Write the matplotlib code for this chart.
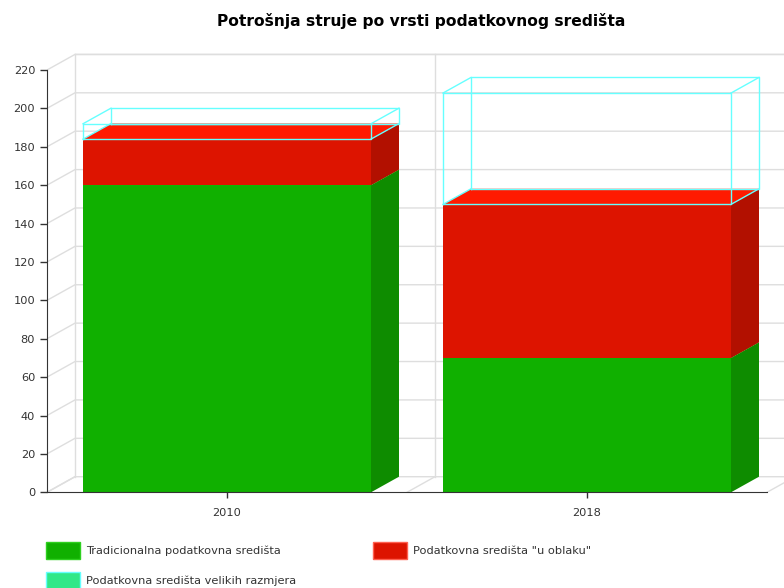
import matplotlib
matplotlib.use('Agg')
import matplotlib.pyplot as plt
from matplotlib.patches import Polygon, Rectangle
import numpy as np

# podaci
godine = ['2010', '2018']
tradicionalna = [160, 70]
oblak = [24, 80]
veliki = [8, 58]
serije = ['Tradicionalna podatkovna središta', 'Podatkovna središta "u oblaku"',
          'Podatkovna središta velikih razmjera']
y_ticks = list(range(0, 221, 20))

# boje: prednja strana, bok, vrh
boje = [('#10b000', '#0e8c00', '#12c800'),
        ('#dd1400', '#b21000', '#ff1a00')]
cijan = '#66ffff'

W, H = 784, 588
fig = plt.figure(figsize=(W / 100, H / 100), dpi=100)
# os u pikselima: x 47..784, y 45..492
ax = fig.add_axes([47 / W, (H - 492.3) / H, 737 / W, 447.3 / H])
ax.set_xlim(-0.5, -0.5 + 737 / 360)
ax.set_ylim(0, 447.3 / 1.9195)

dx = 28 / 360          # dubina u jedinicama kategorije
dy = 15.6 / 1.9195     # dubina u jedinicama vrijednosti
w = 0.8
grid_c = '#dedede'

# mreza na straznjem zidu
for v in y_ticks:
    ax.plot([-0.5, -0.5 + dx, 1.5 + dx], [v, v + dy, v + dy], color=grid_c, lw=1, zorder=0)
for xv in [-0.5, 0.5, 1.5]:
    ax.plot([xv + dx, xv + dx], [dy, y_ticks[-1] + dy], color=grid_c, lw=1, zorder=0)
    ax.plot([xv, xv + dx], [0, dy], color=grid_c, lw=1, zorder=0)
ax.plot([-0.5 + dx, 1.5 + dx], [y_ticks[-1] + dy] * 2, color=grid_c, lw=1, zorder=0)


def kvadar(x0, x1, b, t, front, side, top, z):
    ax.add_patch(Polygon([(x0, b), (x1, b), (x1, t), (x0, t)], closed=True,
                         facecolor=front, edgecolor='none', zorder=z))
    ax.add_patch(Polygon([(x1, b), (x1 + dx, b + dy), (x1 + dx, t + dy), (x1, t)], closed=True,
                         facecolor=side, edgecolor='none', zorder=z))
    ax.add_patch(Polygon([(x0, t), (x1, t), (x1 + dx, t + dy), (x0 + dx, t + dy)], closed=True,
                         facecolor=top, edgecolor='none', zorder=z))


for i in range(len(godine)):
    x0, x1 = i - w / 2, i + w / 2
    vals = [tradicionalna[i], oblak[i]]
    b = 0
    for k, v in enumerate(vals):
        kvadar(x0, x1, b, b + v, *boje[k], z=2 + k)
        b += v
    # treca serija: samo obrub
    t = b + veliki[i]
    rubovi = [
        ([x0, x1, x1, x0, x0], [b, b, t, t, b]),
        ([x0 + dx, x1 + dx, x1 + dx, x0 + dx, x0 + dx], [b + dy, b + dy, t + dy, t + dy, b + dy]),
        ([x0, x0 + dx], [b, b + dy]), ([x1, x1 + dx], [b, b + dy]),
        ([x0, x0 + dx], [t, t + dy]), ([x1, x1 + dx], [t, t + dy]),
    ]
    for xs, ys in rubovi:
        ax.plot(xs, ys, color=cijan, lw=1, zorder=5)

# osi
for s in ['top', 'right']:
    ax.spines[s].set_visible(False)
ax.spines['left'].set_bounds(0, 220)
ax.spines['bottom'].set_bounds(-0.5, 1.5)
ax.spines['left'].set_color('#333333')
ax.spines['bottom'].set_color('#333333')
ax.spines['bottom'].set_zorder(6)
ax.set_yticks(y_ticks)
ax.set_xticks(range(len(godine)))
ax.set_xticklabels(godine)
ax.tick_params(axis='both', labelsize=8.2, colors='#333333', length=5, width=1)
ax.tick_params(axis='x', length=4, pad=7)
ax.set_facecolor('none')

fig.text(421 / W, 1 - 21 / H, 'Potrošnja struje po vrsti podatkovnog središta',
         ha='center', va='center', fontsize=11.2, fontweight='bold', color='black')

# legenda
leg = [(46, 542, serije[0], '#10b000', '#2fd020'),
       (373, 542, serije[1], '#dd1400', '#ff6050'),
       (46, 572, serije[2], '#30e888', cijan)]
for px, py, txt, fc, ec in leg:
    fig.patches.append(Rectangle((px / W, 1 - (py + 17) / H), 34 / W, 17 / H,
                                 transform=fig.transFigure, facecolor=fc, edgecolor=ec, lw=1))
    fig.text((px + 40) / W, 1 - (py + 8.5) / H, txt, ha='left', va='center',
             fontsize=8.2, color='#333333')

fig.savefig('out.png', dpi=100)
